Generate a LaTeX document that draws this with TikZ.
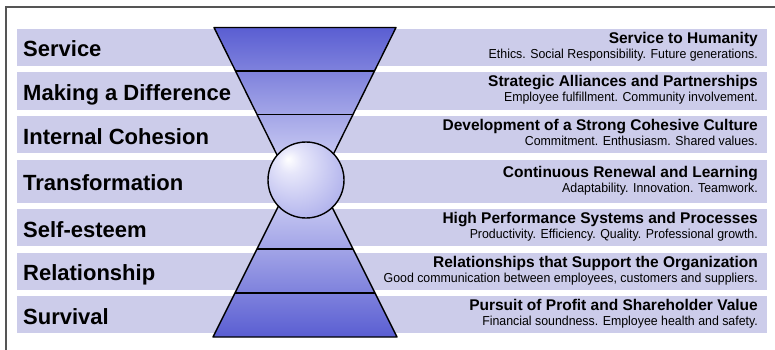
\documentclass[tikz,border=0pt]{standalone}
\usepackage{fontspec}
\setmainfont{Liberation Sans}
\newfontfamily\narrowfont[FakeStretch=0.95]{Liberation Sans}
\usetikzlibrary{positioning,calc}
\definecolor{bandblue}{HTML}{CCCCEA}
\definecolor{darkblue}{HTML}{5A5ED2}
\definecolor{paleblue}{HTML}{D2D3F5}
\definecolor{orbA}{HTML}{E6E6FA}
\definecolor{orbB}{HTML}{A8AAEA}
\definecolor{orbC}{HTML}{7C7FD9}
\definecolor{framegray}{HTML}{555555}
\pgfdeclareradialshading{orbglow}{\pgfpoint{-12bp}{14bp}}{color(0bp)=(white); color(8bp)=(orbA); color(38bp)=(orbB); color(64bp)=(orbC)}

\begin{document}
\begin{tikzpicture}
  [x=1pt,y=1pt,
   bandN/.style={rectangle,fill=bandblue,minimum width=750pt,minimum height=37pt,inner sep=0pt,outer sep=0pt},
   levelN/.style={anchor=base west,inner sep=0pt,font=\fontsize{22}{24}\selectfont\bfseries},
   headN/.style={anchor=base east,inner sep=0pt,font=\fontsize{15.5}{18}\selectfont\bfseries},
   noteN/.style={anchor=base east,inner sep=0pt,font=\narrowfont\fontsize{13}{15}\selectfont},
   hourN/.style={draw,line width=1.4pt,line join=round},
   node distance=6.5pt]

  \useasboundingbox (0,0) rectangle (775,-350);
  \draw [framegray,line width=1.6pt] (5.7,-350) |- (775,-7.3);

  % the seven bands
  \node[bandN,anchor=north west] (serv) at (17,-29) {};
  \node[bandN] (diff) [below=of serv] {};
  \node[bandN] (coh) [below=of diff] {};
  \node[bandN,minimum height=43pt] (trans) [below=of coh] {};
  \node[bandN] (self) [below=of trans] {};
  \node[bandN] (rel) [below=of self] {};
  \node[bandN] (surv) [below=of rel] {};

  % hourglass
  \coordinate (tl) at (214,-27.5);
  \coordinate (tr) at (396,-27.5);
  \coordinate (ta) at (305,-211.5);
  \coordinate (bl) at (213,-337);
  \coordinate (br) at (397,-337);
  \coordinate (ba) at (305,-153);

  \shade[hourN,top color=darkblue,bottom color=paleblue]
    (tl) -- (tr) -- ($(tr)!0.77!(ta)$) -- ($(tl)!0.77!(ta)$) -- cycle;
  \draw[hourN] ($(tl)!0.237!(ta)$) -- ($(tr)!0.237!(ta)$);
  \draw[hourN] ($(tl)!0.474!(ta)$) -- ($(tr)!0.474!(ta)$);

  \shade[hourN,top color=paleblue,bottom color=darkblue]
    (bl) -- (br) -- ($(br)!0.8!(ba)$) -- ($(bl)!0.8!(ba)$) -- cycle;
  \draw[hourN] ($(bl)!0.239!(ba)$) -- ($(br)!0.239!(ba)$);
  \draw[hourN] ($(bl)!0.478!(ba)$) -- ($(br)!0.478!(ba)$);

  \node[circle,hourN,shade,shading=orbglow,minimum size=76pt,inner sep=0pt] (orb) at (306,-180) {};

  % labels
  \node[levelN] (servL) at ([xshift=6pt,yshift=-9.5pt]serv.west) {Service};
  \node[headN] (servH) at ([xshift=-9pt,yshift=4pt]serv.east) {Service to Humanity};
  \node[noteN] (servT) at ([xshift=-9pt,yshift=-11pt]serv.east) {Ethics. Social Responsibility. Future generations.};

  \node[levelN] (diffL) at ([xshift=6pt,yshift=-9.5pt]diff.west) {Making a Difference};
  \node[headN] (diffH) at ([xshift=-9pt,yshift=4pt]diff.east) {Strategic Alliances and Partnerships};
  \node[noteN] (diffT) at ([xshift=-9pt,yshift=-11pt]diff.east) {Employee fulfillment. Community involvement.};

  \node[levelN] (cohL) at ([xshift=6pt,yshift=-9.5pt]coh.west) {Internal Cohesion};
  \node[headN] (cohH) at ([xshift=-9pt,yshift=4pt]coh.east) {Development of a Strong Cohesive Culture};
  \node[noteN] (cohT) at ([xshift=-9pt,yshift=-11pt]coh.east) {Commitment. Enthusiasm. Shared values.};

  \node[levelN] (transL) at ([xshift=6pt,yshift=-9.5pt]trans.west) {Transformation};
  \node[headN] (transH) at ([xshift=-9pt,yshift=4pt]trans.east) {Continuous Renewal and Learning};
  \node[noteN] (transT) at ([xshift=-9pt,yshift=-11.5pt]trans.east) {Adaptability. Innovation. Teamwork.};

  \node[levelN] (selfL) at ([xshift=6pt,yshift=-9.5pt]self.west) {Self-esteem};
  \node[headN] (selfH) at ([xshift=-9pt,yshift=4pt]self.east) {High Performance Systems and Processes};
  \node[noteN] (selfT) at ([xshift=-9pt,yshift=-11pt]self.east) {Productivity. Efficiency. Quality. Professional growth.};

  \node[levelN] (relL) at ([xshift=6pt,yshift=-9.5pt]rel.west) {Relationship};
  \node[headN] (relH) at ([xshift=-9pt,yshift=4pt]rel.east) {Relationships that Support the Organization};
  \node[noteN] (relT) at ([xshift=-9pt,yshift=-11pt]rel.east) {Good communication between employees, customers and suppliers.};

  \node[levelN] (survL) at ([xshift=6pt,yshift=-9.5pt]surv.west) {Survival};
  \node[headN] (survH) at ([xshift=-9pt,yshift=4pt]surv.east) {Pursuit of Profit and Shareholder Value};
  \node[noteN] (survT) at ([xshift=-9pt,yshift=-11pt]surv.east) {Financial soundness. Employee health and safety.};

\end{tikzpicture}
\end{document}
